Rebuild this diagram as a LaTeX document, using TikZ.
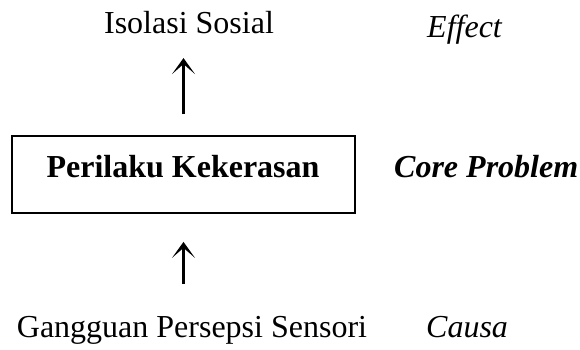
\documentclass[tikz,border=0pt]{standalone}
\usepackage{fontspec}
\setmainfont{Liberation Serif}
\usetikzlibrary{arrows.meta}
\begin{document}
\begin{tikzpicture}[x=1pt,y=1pt,
  every node/.style={inner sep=0pt, font=\fontsize{32}{38}\selectfont},
  label/.style={anchor=base},
  side/.style={anchor=base west, font=\fontsize{32}{38}\selectfont\itshape},
  corebox/.style={draw, line width=1.8pt, minimum width=343pt, minimum height=77pt},
  uparrow/.style={line width=2.8pt, -{Stealth[length=16pt,width=23pt,inset=10pt]}}
]
\useasboundingbox (0,0) rectangle (580,349);

% central problem box and its caption
\node[corebox] (box) at (183.5,174.5) {};
\node[label, font=\fontsize{32}{38}\selectfont\bfseries] (core) at (183,172) {Perilaku Kekerasan};

% effect and cause
\node[label] (iso) at (189,316) {Isolasi Sosial};
\node[label] (gang) at (192,12) {Gangguan Persepsi Sensori};

% right-hand column of category names
\node[side] (eff) at (427,312) {Effect};
\node[side, font=\fontsize{32}{38}\selectfont\bfseries\itshape] (cp) at (394,172) {Core Problem};
\node[side] (cau) at (426,12) {Causa};

% arrows: cause -> core problem -> effect
\draw[uparrow] ([yshift=21pt]box.north) -- ([yshift=77pt]box.north);
\draw[uparrow] ([yshift=-70pt]box.south) -- ([yshift=-28pt]box.south);
\end{tikzpicture}
\end{document}
